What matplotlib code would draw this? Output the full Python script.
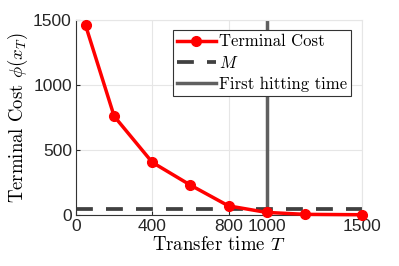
import matplotlib
matplotlib.use("Agg")
import matplotlib.pyplot as plt

T = [50, 200, 400, 600, 800, 1000, 1200, 1500]
cost = [1460, 760, 405, 230, 70, 20, 5, 2]
M = 50
hit_time = 1000
xticks = [0, 400, 800, 1000, 1500]
yticks = [0, 500, 1000, 1500]

plt.rcParams['mathtext.fontset'] = 'cm'
plt.rcParams['font.family'] = ['Liberation Sans', 'DejaVu Sans']
fig = plt.figure(figsize=(3.99, 2.66), dpi=100)
ax = fig.add_axes([76/399, 1-215/266, (362-76)/399, (215-20)/266])

ax.plot(T, cost, '-o', color='red', lw=2.5, ms=7, label='Terminal Cost', zorder=3, clip_on=False)
ax.axhline(M, color='#404040', lw=2.7, ls=(0, (4.5, 3.5)), label='$M$', zorder=2)
ax.axvline(hit_time, color='#606060', lw=2.5, label='First hitting time', zorder=2)

ax.set_xlim(0, 1500)
ax.set_ylim(0, 1500)
ax.set_xticks(xticks)
ax.set_yticks(yticks)
ax.grid(True, color='#e6e6e6', lw=0.8)
ax.set_axisbelow(True)
for s in ['top', 'right']:
    ax.spines[s].set_color('#e6e6e6')
for s in ['left', 'bottom']:
    ax.spines[s].set_color('#333333')
ax.tick_params(direction='in', length=3, labelsize=12.5, colors='#262626', pad=3)
ax.tick_params(top=False, right=False)

ax.set_xlabel('Transfer time $T$', fontsize=13.5, family='cmr10', labelpad=1)
ax.set_ylabel(r'Terminal Cost $\phi(x_T)$', fontsize=13.5, family='cmr10', labelpad=2)

leg = ax.legend(loc='upper right', bbox_to_anchor=(0.962, 0.949), prop={'family': 'cmr10', 'size': 12},
                fancybox=False, framealpha=1, edgecolor='#333333', handlelength=2.3,
                borderpad=0.25, labelspacing=0.33, handletextpad=0.2, borderaxespad=0)
leg.get_frame().set_linewidth(0.8)

fig.savefig('out.png', dpi=100)
